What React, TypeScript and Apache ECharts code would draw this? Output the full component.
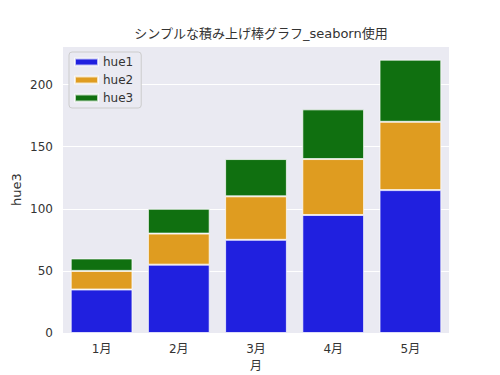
import React, { useEffect, useRef } from "react";
import * as echarts from "echarts";

const categories = ["1月", "2月", "3月", "4月", "5月"];
const hue1 = [35, 55, 75, 95, 115];
const hue2 = [15, 25, 35, 45, 55];
const hue3 = [10, 20, 30, 40, 50];
const yTicks = [0, 50, 100, 150, 200];

const FONT = "DejaVu Sans, 'Noto Sans CJK JP', sans-serif";
const TEXT = "#333333";

export default function App() {
  const ref = useRef<HTMLDivElement>(null);
  useEffect(() => {
    document.body.style.margin = "0";
    const chart = echarts.init(ref.current!, null, { renderer: "svg" });
    const mk = (name: string, data: number[], color: string) => ({
      name,
      type: "bar",
      stack: "total",
      data,
      barWidth: "80%",
      itemStyle: { color, borderColor: "rgba(255,255,255,0.7)", borderWidth: 1 },
    });
    chart.setOption({
      animation: false,
      backgroundColor: "#ffffff",
      textStyle: { fontFamily: FONT },
      title: {
        text: "シンプルな積み上げ棒グラフ_seaborn使用",
        left: 256,
        top: 22,
        textAlign: "center",
        textStyle: { fontSize: 13, fontWeight: "normal", color: TEXT, fontFamily: FONT },
      },
      legend: {
        orient: "vertical",
        left: 69,
        top: 52,
        padding: [3, 8, 3, 5],
        itemWidth: 23,
        itemHeight: 7,
        itemGap: 4,
        backgroundColor: "#EAEAF2",
        borderColor: "#cccccc",
        borderWidth: 1,
        borderRadius: 3,
        icon: "rect",
        textStyle: { fontSize: 12, color: TEXT, fontFamily: FONT, lineHeight: 14 },
        data: ["hue1", "hue2", "hue3"],
      },
      grid: {
        left: 63, right: 51, top: 46, bottom: 42,
        containLabel: false, outerBoundsMode: "none",
        show: true, backgroundColor: "#EAEAF2", borderWidth: 0,
      },
      xAxis: {
        type: "category",
        data: categories,
        name: "月",
        nameLocation: "middle",
        nameGap: 27,
        nameMoveOverlap: false,
        nameTextStyle: { fontSize: 12, color: TEXT, fontFamily: FONT },
        axisLine: { show: false },
        axisTick: { show: false },
        axisLabel: { fontSize: 12, color: TEXT, margin: 10, fontFamily: FONT },
      },
      yAxis: {
        type: "value",
        min: 0,
        max: 231,
        interval: 50,
        name: "hue3",
        nameLocation: "middle",
        nameGap: 40,
        nameMoveOverlap: false,
        nameTextStyle: { fontSize: 13, color: TEXT, fontFamily: FONT },
        axisLine: { show: false },
        axisTick: { show: false },
        splitLine: { lineStyle: { color: "#ffffff", width: 1 } },
        axisLabel: {
          fontSize: 12,
          color: TEXT,
          margin: 10,
          fontFamily: FONT,
          showMaxLabel: false,
          formatter: (v: number) => (yTicks.includes(v) ? String(v) : ""),
        },
      },
      series: [
        mk("hue1", hue1, "#2020df"),
        mk("hue2", hue2, "#df9c20"),
        mk("hue3", hue3, "#107010"),
      ],
    });
    return () => chart.dispose();
  }, []);
  return <div ref={ref} style={{ width: 500, height: 375 }} />;
}
